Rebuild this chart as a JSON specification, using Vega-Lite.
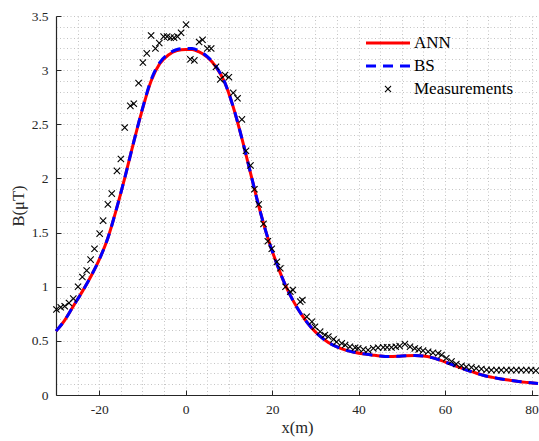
{
  "$schema": "https://vega.github.io/schema/vega-lite/v6.json",
  "width": 482,
  "height": 379,
  "autosize": {"type": "none"},
  "padding": {"left": 56, "top": 16, "right": 1, "bottom": 46},
  "background": "white",
  "config": {"view": {"stroke": null}, "font": "Liberation Serif"},
  "datasets": {
    "curves": [
      {"x": -30, "y": 0.59, "series": "ANN"}, {"x": -28, "y": 0.69, "series": "ANN"}, {"x": -26, "y": 0.82, "series": "ANN"},
      {"x": -24, "y": 0.95, "series": "ANN"}, {"x": -22, "y": 1.09, "series": "ANN"}, {"x": -20, "y": 1.25, "series": "ANN"},
      {"x": -18, "y": 1.45, "series": "ANN"}, {"x": -16, "y": 1.72, "series": "ANN"}, {"x": -14, "y": 2.02, "series": "ANN"},
      {"x": -12, "y": 2.34, "series": "ANN"}, {"x": -10, "y": 2.64, "series": "ANN"}, {"x": -8, "y": 2.9, "series": "ANN"},
      {"x": -6, "y": 3.06, "series": "ANN"}, {"x": -4, "y": 3.14, "series": "ANN"}, {"x": -2, "y": 3.18, "series": "ANN"},
      {"x": 0, "y": 3.19, "series": "ANN"}, {"x": 1.5, "y": 3.19, "series": "ANN"}, {"x": 3, "y": 3.17, "series": "ANN"},
      {"x": 5, "y": 3.12, "series": "ANN"}, {"x": 7, "y": 3.03, "series": "ANN"}, {"x": 9, "y": 2.89, "series": "ANN"},
      {"x": 11, "y": 2.66, "series": "ANN"}, {"x": 13, "y": 2.37, "series": "ANN"}, {"x": 15, "y": 2.05, "series": "ANN"},
      {"x": 17, "y": 1.73, "series": "ANN"}, {"x": 19, "y": 1.45, "series": "ANN"}, {"x": 21, "y": 1.22, "series": "ANN"},
      {"x": 23, "y": 1.02, "series": "ANN"}, {"x": 25, "y": 0.86, "series": "ANN"}, {"x": 27, "y": 0.73, "series": "ANN"},
      {"x": 29, "y": 0.625, "series": "ANN"}, {"x": 31, "y": 0.545, "series": "ANN"}, {"x": 33, "y": 0.485, "series": "ANN"},
      {"x": 35, "y": 0.445, "series": "ANN"}, {"x": 37, "y": 0.415, "series": "ANN"}, {"x": 39, "y": 0.395, "series": "ANN"},
      {"x": 41, "y": 0.38, "series": "ANN"}, {"x": 43, "y": 0.37, "series": "ANN"}, {"x": 45, "y": 0.36, "series": "ANN"},
      {"x": 47, "y": 0.355, "series": "ANN"}, {"x": 49, "y": 0.357, "series": "ANN"}, {"x": 51, "y": 0.362, "series": "ANN"},
      {"x": 53, "y": 0.364, "series": "ANN"}, {"x": 55, "y": 0.36, "series": "ANN"}, {"x": 57, "y": 0.345, "series": "ANN"},
      {"x": 59, "y": 0.32, "series": "ANN"}, {"x": 61, "y": 0.29, "series": "ANN"}, {"x": 63, "y": 0.26, "series": "ANN"},
      {"x": 65, "y": 0.23, "series": "ANN"}, {"x": 67, "y": 0.205, "series": "ANN"}, {"x": 69, "y": 0.18, "series": "ANN"},
      {"x": 71, "y": 0.163, "series": "ANN"}, {"x": 73, "y": 0.148, "series": "ANN"}, {"x": 75, "y": 0.136, "series": "ANN"},
      {"x": 77, "y": 0.125, "series": "ANN"}, {"x": 79, "y": 0.116, "series": "ANN"}, {"x": 81.5, "y": 0.106, "series": "ANN"},
      {"x": -30, "y": 0.59, "series": "BS"}, {"x": -28, "y": 0.69, "series": "BS"}, {"x": -26, "y": 0.82, "series": "BS"},
      {"x": -24, "y": 0.95, "series": "BS"}, {"x": -22, "y": 1.09, "series": "BS"}, {"x": -20, "y": 1.25, "series": "BS"},
      {"x": -18, "y": 1.45, "series": "BS"}, {"x": -16, "y": 1.72, "series": "BS"}, {"x": -14, "y": 2.02, "series": "BS"},
      {"x": -12, "y": 2.34, "series": "BS"}, {"x": -10, "y": 2.645, "series": "BS"}, {"x": -8, "y": 2.91, "series": "BS"},
      {"x": -6, "y": 3.07, "series": "BS"}, {"x": -4, "y": 3.15, "series": "BS"}, {"x": -2, "y": 3.19, "series": "BS"},
      {"x": 0, "y": 3.2, "series": "BS"}, {"x": 1.5, "y": 3.2, "series": "BS"}, {"x": 3, "y": 3.18, "series": "BS"},
      {"x": 5, "y": 3.125, "series": "BS"}, {"x": 7, "y": 3.035, "series": "BS"}, {"x": 9, "y": 2.89, "series": "BS"},
      {"x": 11, "y": 2.66, "series": "BS"}, {"x": 13, "y": 2.37, "series": "BS"}, {"x": 15, "y": 2.05, "series": "BS"},
      {"x": 17, "y": 1.73, "series": "BS"}, {"x": 19, "y": 1.45, "series": "BS"}, {"x": 21, "y": 1.22, "series": "BS"},
      {"x": 23, "y": 1.02, "series": "BS"}, {"x": 25, "y": 0.86, "series": "BS"}, {"x": 27, "y": 0.73, "series": "BS"},
      {"x": 29, "y": 0.625, "series": "BS"}, {"x": 31, "y": 0.545, "series": "BS"}, {"x": 33, "y": 0.485, "series": "BS"},
      {"x": 35, "y": 0.445, "series": "BS"}, {"x": 37, "y": 0.415, "series": "BS"}, {"x": 39, "y": 0.395, "series": "BS"},
      {"x": 41, "y": 0.38, "series": "BS"}, {"x": 43, "y": 0.37, "series": "BS"}, {"x": 45, "y": 0.36, "series": "BS"},
      {"x": 47, "y": 0.355, "series": "BS"}, {"x": 49, "y": 0.357, "series": "BS"}, {"x": 51, "y": 0.362, "series": "BS"},
      {"x": 53, "y": 0.364, "series": "BS"}, {"x": 55, "y": 0.36, "series": "BS"}, {"x": 57, "y": 0.345, "series": "BS"},
      {"x": 59, "y": 0.32, "series": "BS"}, {"x": 61, "y": 0.29, "series": "BS"}, {"x": 63, "y": 0.26, "series": "BS"},
      {"x": 65, "y": 0.23, "series": "BS"}, {"x": 67, "y": 0.205, "series": "BS"}, {"x": 69, "y": 0.18, "series": "BS"},
      {"x": 71, "y": 0.163, "series": "BS"}, {"x": 73, "y": 0.148, "series": "BS"}, {"x": 75, "y": 0.136, "series": "BS"},
      {"x": 77, "y": 0.125, "series": "BS"}, {"x": 79, "y": 0.116, "series": "BS"}, {"x": 81.5, "y": 0.106, "series": "BS"}
    ],
    "meas": [
      {"x": -29.9, "y": 0.79}, {"x": -28.9, "y": 0.81}, {"x": -28.0, "y": 0.82}, {"x": -27.0, "y": 0.85}, {"x": -26.0, "y": 0.89},
      {"x": -24.9, "y": 1.0}, {"x": -23.9, "y": 1.09}, {"x": -22.9, "y": 1.15}, {"x": -22.0, "y": 1.25}, {"x": -21.1, "y": 1.35},
      {"x": -19.9, "y": 1.49}, {"x": -19.1, "y": 1.61}, {"x": -18.0, "y": 1.76}, {"x": -17.1, "y": 1.86}, {"x": -15.9, "y": 2.07},
      {"x": -15.0, "y": 2.18}, {"x": -14.1, "y": 2.47}, {"x": -12.8, "y": 2.67}, {"x": -12.0, "y": 2.69}, {"x": -10.9, "y": 2.88},
      {"x": -9.9, "y": 3.07}, {"x": -9.0, "y": 3.155}, {"x": -8.0, "y": 3.32}, {"x": -7.0, "y": 3.2}, {"x": -6.1, "y": 3.25},
      {"x": -5.1, "y": 3.31}, {"x": -4.3, "y": 3.31}, {"x": -3.5, "y": 3.3}, {"x": -2.7, "y": 3.3}, {"x": -1.9, "y": 3.31},
      {"x": -1.06, "y": 3.345}, {"x": 0.08, "y": 3.42}, {"x": 1.08, "y": 3.1}, {"x": 2.0, "y": 3.09}, {"x": 3.1, "y": 3.26},
      {"x": 3.9, "y": 3.28}, {"x": 5.0, "y": 3.2}, {"x": 5.9, "y": 3.2}, {"x": 7.0, "y": 3.03}, {"x": 8.0, "y": 2.915},
      {"x": 9.1, "y": 2.955}, {"x": 10.0, "y": 2.935}, {"x": 11.0, "y": 2.79}, {"x": 12.0, "y": 2.74}, {"x": 13.0, "y": 2.545},
      {"x": 13.95, "y": 2.255}, {"x": 15.0, "y": 2.12}, {"x": 15.9, "y": 1.9}, {"x": 16.9, "y": 1.76}, {"x": 18.0, "y": 1.58},
      {"x": 19.0, "y": 1.42}, {"x": 19.9, "y": 1.35}, {"x": 21.1, "y": 1.23}, {"x": 21.9, "y": 1.17}, {"x": 23.1, "y": 1.0},
      {"x": 24.2, "y": 0.954}, {"x": 24.8, "y": 0.97}, {"x": 26.5, "y": 0.862}, {"x": 27.0, "y": 0.877}, {"x": 28.0, "y": 0.723},
      {"x": 29.2, "y": 0.677}, {"x": 29.9, "y": 0.63}, {"x": 31.1, "y": 0.585}, {"x": 32.2, "y": 0.554}, {"x": 33.0, "y": 0.54},
      {"x": 34.2, "y": 0.514}, {"x": 34.9, "y": 0.49}, {"x": 36.1, "y": 0.477}, {"x": 36.9, "y": 0.462}, {"x": 38.0, "y": 0.446},
      {"x": 39.2, "y": 0.437}, {"x": 39.9, "y": 0.431}, {"x": 41.1, "y": 0.42}, {"x": 42.2, "y": 0.415}, {"x": 43.4, "y": 0.431},
      {"x": 44.5, "y": 0.437}, {"x": 45.7, "y": 0.44}, {"x": 46.6, "y": 0.44}, {"x": 47.6, "y": 0.44}, {"x": 48.6, "y": 0.446},
      {"x": 49.5, "y": 0.452}, {"x": 50.7, "y": 0.47}, {"x": 51.9, "y": 0.446}, {"x": 53.0, "y": 0.43}, {"x": 53.9, "y": 0.42},
      {"x": 54.9, "y": 0.41}, {"x": 56.1, "y": 0.4}, {"x": 57.2, "y": 0.39}, {"x": 58.4, "y": 0.385}, {"x": 59.2, "y": 0.37},
      {"x": 60.3, "y": 0.34}, {"x": 61.5, "y": 0.31}, {"x": 62.6, "y": 0.286}, {"x": 63.8, "y": 0.27}, {"x": 64.9, "y": 0.26},
      {"x": 66.1, "y": 0.255}, {"x": 67.2, "y": 0.246}, {"x": 68.4, "y": 0.24}, {"x": 69.6, "y": 0.232}, {"x": 70.7, "y": 0.23},
      {"x": 71.9, "y": 0.23}, {"x": 73.0, "y": 0.23}, {"x": 74.2, "y": 0.23}, {"x": 75.3, "y": 0.23}, {"x": 76.5, "y": 0.23},
      {"x": 77.6, "y": 0.23}, {"x": 78.8, "y": 0.23}, {"x": 79.9, "y": 0.23}, {"x": 81.0, "y": 0.225}
    ]
  },
  "layer": [
    {
      "data": {"name": "curves"},
      "transform": [{"filter": "datum.series == 'ANN'"}],
      "mark": {"type": "line", "color": "#ff0000", "strokeWidth": 3, "interpolate": "monotone"},
      "encoding": {
        "x": {
          "field": "x", "type": "quantitative",
          "scale": {"domain": [-30, 81.5], "nice": false, "zero": false},
          "axis": {
            "orient": "bottom", "values": [-30, -25, -20, -15, -10, -5, 0, 5, 10, 15, 20, 25, 30, 35, 40, 45, 50, 55, 60, 65, 70, 75, 80],
            "grid": true, "gridColor": "#c4c4c4", "gridDash": [1, 2.5], "gridWidth": 1,
            "labels": false, "ticks": false, "domain": false, "title": null
          }
        },
        "y": {
          "field": "y", "type": "quantitative",
          "scale": {"domain": [0, 3.5], "nice": false, "zero": false},
          "axis": {
            "orient": "left", "values": [0, 0.1, 0.2, 0.3, 0.4, 0.5, 0.6, 0.7, 0.8, 0.9, 1, 1.1, 1.2, 1.3, 1.4, 1.5, 1.6, 1.7, 1.8, 1.9, 2, 2.1, 2.2, 2.3, 2.4, 2.5, 2.6, 2.7, 2.8, 2.9, 3, 3.1, 3.2, 3.3, 3.4, 3.5],
            "grid": true, "gridColor": "#c4c4c4", "gridDash": [1, 2.5], "gridWidth": 1,
            "labels": false, "ticks": false, "domain": false, "title": null
          }
        }
      }
    },
    {
      "data": {"name": "curves"},
      "transform": [{"filter": "datum.series == 'BS'"}],
      "mark": {"type": "line", "color": "#0000ff", "strokeWidth": 3, "strokeDash": [10, 7], "interpolate": "monotone"},
      "encoding": {
        "x": {
          "field": "x", "type": "quantitative",
          "scale": {"domain": [-30, 81.5], "nice": false, "zero": false},
          "axis": {
            "orient": "bottom", "values": [-20, 0, 20, 40, 60, 80], "labelExpr": "'' + datum.value",
            "grid": false, "domainColor": "#262626", "domainWidth": 1.2, "tickColor": "#262626", "tickSize": -5, "tickWidth": 1,
            "labelPadding": 12, "labelFont": "Liberation Serif", "labelFontSize": 13.5, "labelColor": "#262626",
            "title": "x(m)", "titleFont": "Liberation Serif", "titleFontSize": 16.5, "titleFontWeight": "normal", "titleColor": "#262626", "titlePadding": 4
          }
        },
        "y": {
          "field": "y", "type": "quantitative",
          "scale": {"domain": [0, 3.5], "nice": false, "zero": false},
          "axis": {
            "orient": "left", "values": [0, 0.5, 1, 1.5, 2, 2.5, 3, 3.5], "format": "~g",
            "grid": false, "domainColor": "#262626", "domainWidth": 1.2, "tickColor": "#262626", "tickSize": -5, "tickWidth": 1,
            "labelPadding": 13, "labelFont": "Liberation Serif", "labelFontSize": 13.5, "labelColor": "#262626",
            "title": "B(μT)", "titleFont": "Liberation Serif", "titleFontSize": 16.5, "titleFontWeight": "normal", "titleColor": "#262626", "titlePadding": 5
          }
        }
      }
    },
    {
      "data": {"name": "meas"},
      "mark": {"type": "point", "size": 40, "filled": false, "opacity": 1},
      "encoding": {
        "x": {"field": "x", "type": "quantitative", "scale": {"domain": [-30, 81.5], "nice": false, "zero": false}, "axis": null},
        "y": {"field": "y", "type": "quantitative", "scale": {"domain": [0, 3.5], "nice": false, "zero": false}, "axis": null},
        "color": {
          "datum": "Measurements", "type": "nominal",
          "scale": {"domain": ["ANN", "BS", "Measurements"], "range": ["#ff0000", "#0000ff", "#000000"]},
          "legend": {
            "title": null, "orient": "none", "legendX": 323.5, "legendY": 18.5,
            "symbolSize": 36, "padding": 0, "rowPadding": 5,
            "labelFont": "Liberation Serif", "labelFontSize": 17, "labelColor": "#000000", "labelOffset": 17.5
          }
        },
        "shape": {
          "datum": "Measurements", "type": "nominal",
          "scale": {"domain": ["ANN", "BS", "Measurements"], "range": ["M-7.33,0H7.33", "M-7.33,0H7.33", "M-1,-1L1,1M-1,1L1,-1"]},
          "legend": {
            "title": null, "orient": "none", "legendX": 323.5, "legendY": 18.5,
            "symbolSize": 36, "padding": 0, "rowPadding": 5,
            "labelFont": "Liberation Serif", "labelFontSize": 17, "labelColor": "#000000", "labelOffset": 17.5
          }
        },
        "strokeDash": {
          "datum": "Measurements", "type": "nominal",
          "scale": {"domain": ["ANN", "BS", "Measurements"], "range": [[1, 0], [10, 7], [1, 0]]},
          "legend": {
            "title": null, "orient": "none", "legendX": 323.5, "legendY": 18.5,
            "symbolSize": 36, "padding": 0, "rowPadding": 5,
            "labelFont": "Liberation Serif", "labelFontSize": 17, "labelColor": "#000000", "labelOffset": 17.5
          }
        },
        "strokeWidth": {
          "datum": "Measurements", "type": "nominal",
          "scale": {"type": "ordinal", "domain": ["ANN", "BS", "Measurements"], "range": [3, 3, 1.1]},
          "legend": {
            "title": null, "orient": "none", "legendX": 323.5, "legendY": 18.5,
            "symbolSize": 36, "padding": 0, "rowPadding": 5,
            "labelFont": "Liberation Serif", "labelFontSize": 17, "labelColor": "#000000", "labelOffset": 17.5
          }
        }
      }
    }
  ],
  "resolve": {"axis": {"x": "independent", "y": "independent"}}
}
